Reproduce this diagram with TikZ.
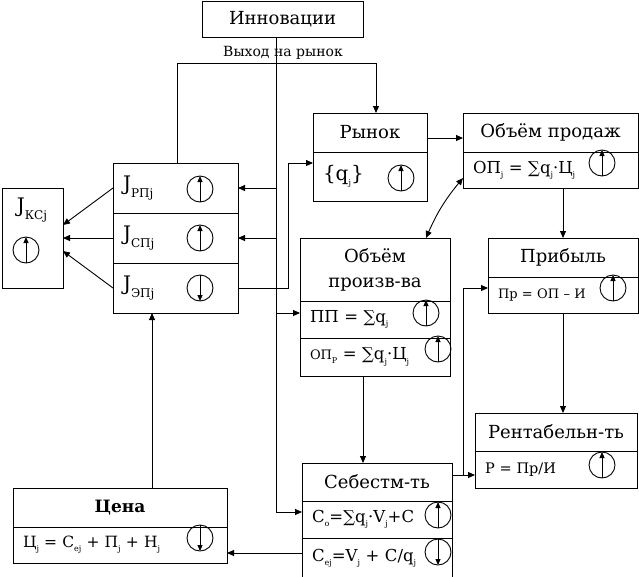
\documentclass[tikz,border=0pt]{standalone}
\usepackage{fontspec}
\setmainfont{DejaVu Serif}
\usetikzlibrary{arrows.meta,positioning}

\newcommand{\ix}[1]{\raisebox{-0.5ex}{\fontsize{8}{9}\selectfont #1}}
\newcommand{\jx}[1]{\raisebox{-7pt}{\fontsize{12}{13}\selectfont #1}}
\newcommand{\ttl}{\fontsize{18}{21}\selectfont}
\newcommand{\frm}{\fontsize{16.5}{19}\selectfont}
\newcommand{\sml}{\fontsize{13}{15}\selectfont}
\newcommand{\jj}{\fontsize{20}{22}\selectfont}

\tikzset{
	titlebox/.style={draw, rectangle, inner sep=0pt, outer sep=0pt, anchor=north west, font=\ttl},
	rowbox/.style={titlebox, align=left, inner xsep=10pt, text width=#1, font=\frm},
	ind/.style={draw, circle, minimum size=26pt, inner sep=0pt,
		path picture={\draw[-{Triangle[length=6pt,width=5pt]}] (path picture bounding box.south) -- (path picture bounding box.north);}},
	indd/.style={draw, circle, minimum size=26pt, inner sep=0pt,
		path picture={\draw[-{Triangle[length=6pt,width=5pt]}] (path picture bounding box.north) -- (path picture bounding box.south);}}
}

\begin{document}
\begin{tikzpicture}[x=1pt, y=-1pt, line width=0.9pt, >={Triangle[length=7pt,width=6pt]}]
	\useasboundingbox (0,0) rectangle (639,576);

	% top
	\node[titlebox, minimum width=161pt, minimum height=36pt] (inno) at (202,1) {Инновации};
	\node[font=\fontsize{14}{16}\selectfont] (exitlbl) at (283,53) {Выход на рынок};

	% market and sales
	\node[titlebox, minimum width=114pt, minimum height=39pt] (rynok) at (313,113) {Рынок};
	\node[rowbox=94pt, minimum height=49pt, below=0pt of rynok, font=\fontsize{20}{22}\selectfont] (rynokq) {\{q\ix{j}\}};
	\node[ind] (iq) at (401,178) {};

	\node[titlebox, minimum width=175pt, minimum height=39pt] (prod) at (463,113) {Объём продаж};
	\node[rowbox=155pt, minimum height=36pt, below=0pt of prod] (prodf) {ОП\ix{j} = ∑q\ix{j}·Ц\ix{j}};
	\node[ind] (iprod) at (602,163) {};

	\node[titlebox, minimum width=150pt, minimum height=39pt] (prib) at (488,238) {Прибыль};
	\node[rowbox=130pt, minimum height=36pt, below=0pt of prib, font=\sml] (pribf) {Пр = ОП – И};
	\node[ind] (iprib) at (613,288) {};

	\node[titlebox, minimum width=162pt, minimum height=38pt] (rent) at (475,413) {Рентабельн-ть};
	\node[rowbox=142pt, minimum height=37pt, below=0pt of rent, font=\fontsize{14.5}{17}\selectfont] (rentf) {Р = Пр/И};
	\node[ind] (irent) at (602,465) {};

	% production and cost
	\node[titlebox, minimum width=150pt, minimum height=63pt, align=center, font=\fontsize{18}{25}\selectfont] (vol) at (300,238) {Объём\\произв-ва};
	\node[rowbox=130pt, minimum height=37pt, below=0pt of vol] (volpp) {ПП = ∑q\ix{j}};
	\node[ind] (ipp) at (426,313) {};
	\node[rowbox=130pt, minimum height=38pt, below=0pt of volpp] (volop) {{\sml ОП\ix{Р}} = ∑q\ix{j}·Ц\ix{j}};
	\node[ind] (iop) at (438,349) {};

	\node[titlebox, minimum width=150pt, minimum height=38pt] (seb) at (302,463) {Себестм-ть};
	\node[rowbox=130pt, minimum height=37pt, below=0pt of seb] (sebco) {C\ix{o}=∑q\ix{j}·V\ix{j}+C};
	\node[ind] (ico) at (438,515) {};
	\node[rowbox=130pt, minimum height=40pt, below=0pt of sebco] (sebce) {C\ix{ej}=V\ix{j} + C/q\ix{j}};
	\node[indd] (ice) at (438,552) {};

	% price
	\node[titlebox, minimum width=214pt, minimum height=39pt, font=\fontsize{17}{20}\selectfont\bfseries] (price) at (13,488) {Цена};
	\node[rowbox=194pt, minimum height=36pt, below=0pt of price, font=\fontsize{15.5}{18}\selectfont] (pricef) {Ц\ix{j} = C\ix{ej} + П\ix{j} + Н\ix{j}};
	\node[indd] (iprice) at (200,538) {};

	% indices
	\node[rowbox=105pt, minimum height=50pt, font=\jj] (jrp) at (113,163) {J\jx{РПj}};
	\node[rowbox=105pt, minimum height=50pt, font=\jj, below=0pt of jrp] (jsp) {J\jx{СПj}};
	\node[rowbox=105pt, minimum height=50pt, font=\jj, below=0pt of jsp] (jep) {J\jx{ЭПj}};
	\node[ind] (irp) at (200,189) {};
	\node[ind] (isp) at (200,238) {};
	\node[indd] (iep) at (200,288) {};

	\node[titlebox, minimum width=61pt, minimum height=100pt] (jks) at (2,188) {};
	\node[font=\jj] (jkst) at (32,210) {J\jx{КСj}};
	\node[ind] (iks) at (26,250) {};

	% connectors
	\coordinate (t1) at (276,188);
	\coordinate (t2) at (276,238);
	\coordinate (t3) at (276,313);
	\coordinate (t4) at (276,512);
	\draw ([xshift=-6.5pt]inno.south) -- (t4);
	\draw[->] (t1) -- (jrp.east);
	\draw[->] (t2) -- (jsp.east);
	\draw[->] (t3) -- (t3 -| volpp.west);
	\draw[->] (t4) -- (t4 -| sebco.west);

	\coordinate (ex) at (376,63);
	\draw[->] ([xshift=1.5pt]jrp.north) |- (ex) -- (ex |- rynok.north);

	\coordinate (eb) at (288,163);
	\draw[->] (jep.east) -| (eb) -- (eb -| rynokq.west);

	\draw[->] ([yshift=-5.5pt]rynok.east) -- ([yshift=-5.5pt]rynok.east -| prod.west);
	\draw[<->] ([yshift=10pt]prodf.south west) to[bend right=8] ([xshift=-24pt]vol.north east);
	\draw[->] (prodf.south -| prib.north) -- (prib.north);
	\draw[->] (pribf.south) -- (pribf.south |- rent.north);

	\coordinate (sj) at (463,475);
	\coordinate (pj) at (463,288);
	\draw (sj -| seb.east) -- (sj);
	\draw[->] (sj) -- (sj -| rentf.west);
	\draw[->] (sj) -- (pj) -- (pj -| pribf.west);

	\draw[->] ([xshift=-12pt]volop.south) -- ([xshift=-12pt]volop.south |- seb.north);
	\draw[->] ([yshift=5pt]sebce.west) -- ([yshift=5pt]sebce.west -| pricef.east);
	\draw[->] ([xshift=32pt]price.north) -- ([xshift=32pt]price.north |- jep.south);

	\draw[->] (jrp.west) -- ([yshift=13pt]jks.east);
	\draw[->] (jsp.west) -- (jks.east);
	\draw[->] (jep.west) -- ([yshift=-13pt]jks.east);
\end{tikzpicture}
\end{document}
